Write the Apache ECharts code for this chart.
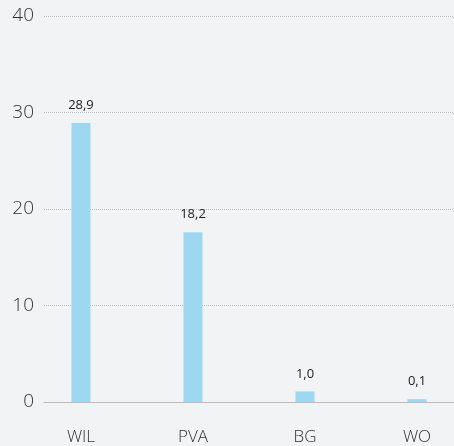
<!DOCTYPE html>
<html><head><meta charset="utf-8">
<script src="https://cdn.jsdelivr.net/npm/echarts@6/dist/echarts.min.js"></script>
<style>html,body{margin:0;padding:0;background:#f2f3f5;}#c{width:454px;height:446px;}</style>
</head><body><div id="c"></div>
<script>
const categories = ['WIL', 'PVA', 'BG', 'WO'];
const values = [28.9, 17.6, 1.1, 0.3];
const valueLabels = ['28,9', '18,2', '1,0', '0,1'];
const yTicks = [0, 10, 20, 30, 40];

const chart = echarts.init(document.getElementById('c'));
chart.setOption({
  backgroundColor: '#f2f3f5',
  animation: false,
  grid: { left: 44, right: 0, top: 16, bottom: 43, containLabel: false },
  xAxis: {
    type: 'value', min: -0.33, max: 3.33,
    splitLine: { show: false },
    axisLine: { show: true, lineStyle: { color: '#bbbbbb', width: 1 } },
    axisTick: { show: false },
    axisLabel: {
      customValues: [0, 1, 2, 3],
      formatter: v => categories[Math.round(v)] || '',
      margin: 27, fontSize: 17, color: '#333', fontFamily: 'Open Sans', fontWeight: 300
    }
  },
  yAxis: {
    type: 'value', min: 0, max: 40, interval: 10,
    axisLine: { show: false }, axisTick: { show: false },
    axisLabel: { margin: 10, fontSize: 19, color: '#333', fontFamily: 'Open Sans', fontWeight: 300,
      formatter: v => yTicks.includes(v) ? String(v) : '' },
    splitLine: { show: true, lineStyle: { color: '#bdbdbd', type: [1, 1], width: 1 } }
  },
  series: [{
    type: 'bar',
    barWidth: 19,
    data: values.map((v, i) => [i, v]),
    itemStyle: { color: '#9dd8f0' },
    label: {
      show: true, position: 'top', distance: 11,
      fontSize: 13, color: '#222', fontFamily: 'Open Sans',
      formatter: p => valueLabels[p.dataIndex]
    }
  }]
});
</script></body></html>
